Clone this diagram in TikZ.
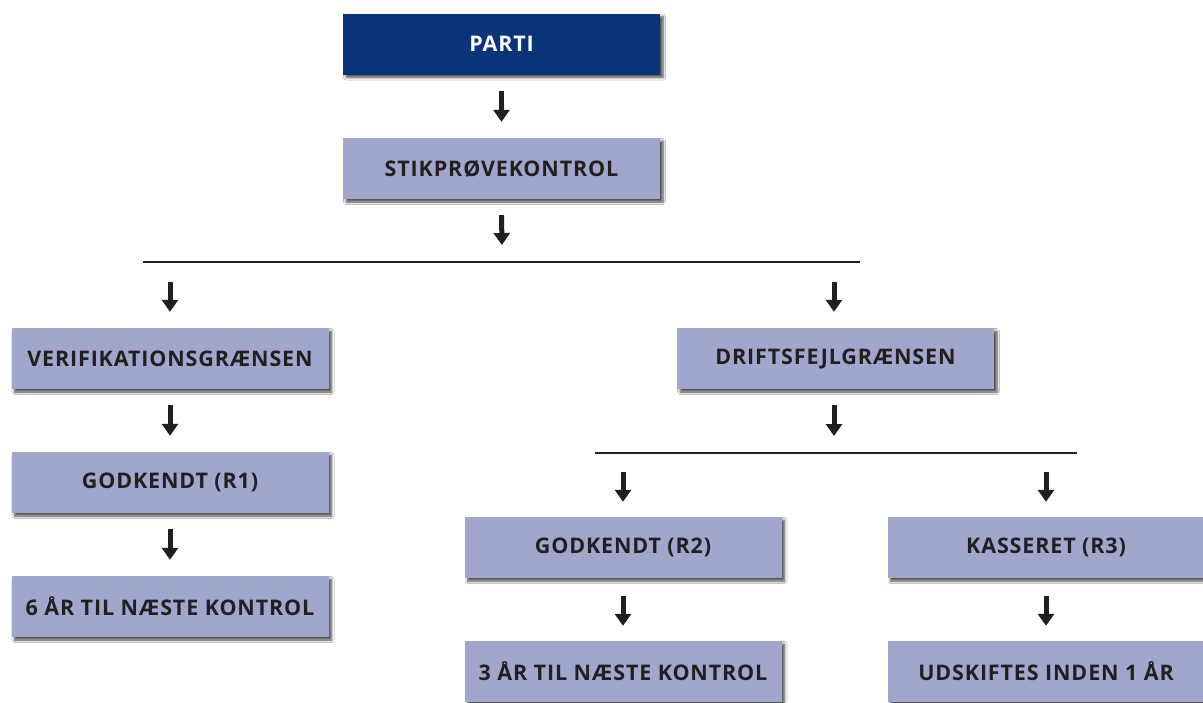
\documentclass[tikz,border=0pt]{standalone}
\usepackage{fontspec}
\setmainfont{Open Sans}
\newfontfamily\boxfont[LetterSpace=4]{Open Sans}
\usetikzlibrary{arrows.meta,shadows.blur}
\definecolor{darkblue}{HTML}{0A3479}
\definecolor{lightblue}{HTML}{A1A7CC}
\definecolor{ink}{HTML}{231F20}
\tikzset{
  box/.style={rectangle, minimum width=317pt, minimum height=61pt, inner sep=0pt,
    fill=lightblue, text=ink, font=\boxfont\bfseries\fontsize{21.5}{23}\selectfont,
    blur shadow={shadow xshift=3pt, shadow yshift=-3pt, shadow blur steps=6, shadow blur radius=2.5pt, shadow opacity=70}},
  topbox/.style={box, fill=darkblue, text=white},
  arr/.style={draw=ink, line width=5pt, -{Triangle[width=16pt,length=12pt]}},
  bar/.style={draw=ink, line width=2.6pt}
}
\begin{document}
\begin{tikzpicture}[x=1pt,y=-1pt]
\clip (0,0) rectangle (1203,702);
\fill[white] (0,0) rectangle (1203,702);
\node[topbox] (parti) at (501.5,44) {PARTI};
\node[box] (stik) at (501.5,168.5) {STIKPRØVEKONTROL};
\node[box] (veri) at (170,358.5) {VERIFIKATIONSGRÆNSEN};
\node[box] (drift) at (835.5,358.5) {DRIFTSFEJLGRÆNSEN};
\node[box] (god1) at (170,482.5) {GODKENDT (R1)};
\node[box] (six) at (170,606.5) {6 ÅR TIL NÆSTE KONTROL};
\node[box] (god2) at (623,547.5) {GODKENDT (R2)};
\node[box] (kass) at (1046,547.5) {KASSERET (R3)};
\node[box] (three) at (623,671.5) {3 ÅR TIL NÆSTE KONTROL};
\node[box] (udsk) at (1046,671.5) {UDSKIFTES INDEN 1 ÅR};
% bars
\coordinate (barL) at (143,262);
\coordinate (barR) at (860,262);
\coordinate (bar2L) at (595,453);
\coordinate (bar2R) at (1077,453);
\draw[bar] (barL) -- (barR);
\draw[bar] (bar2L) -- (bar2R);
\coordinate (b1) at (502,262);
\coordinate (b1l) at (170,262);
\coordinate (b1r) at (834,262);
\coordinate (b2) at (834,453);
\coordinate (b2l) at (623,453);
\coordinate (b2r) at (1046,453);
% arrows
\draw[arr] ([yshift=-16pt]parti.south) -- ([yshift=16pt]stik.north);
\draw[arr] ([yshift=-16pt]stik.south) -- ([yshift=17pt]b1);
\draw[arr] ([yshift=-20pt]b1l) -- ([yshift=16pt]veri.north);
\draw[arr] ([yshift=-20pt]b1r) -- ([yshift=16pt]drift.north -| b1r);
\draw[arr] ([yshift=-16pt]veri.south) -- ([yshift=16pt]god1.north);
\draw[arr] ([yshift=-16pt]god1.south) -- ([yshift=16pt]six.north);
\draw[arr] ([yshift=-16pt]drift.south -| b2) -- ([yshift=17pt]b2);
\draw[arr] ([yshift=-19pt]b2l) -- ([yshift=15pt]god2.north);
\draw[arr] ([yshift=-19pt]b2r) -- ([yshift=15pt]kass.north);
\draw[arr] ([yshift=-18pt]god2.south) -- ([yshift=15pt]three.north);
\draw[arr] ([yshift=-18pt]kass.south) -- ([yshift=15pt]udsk.north);
\end{tikzpicture}
\end{document}
